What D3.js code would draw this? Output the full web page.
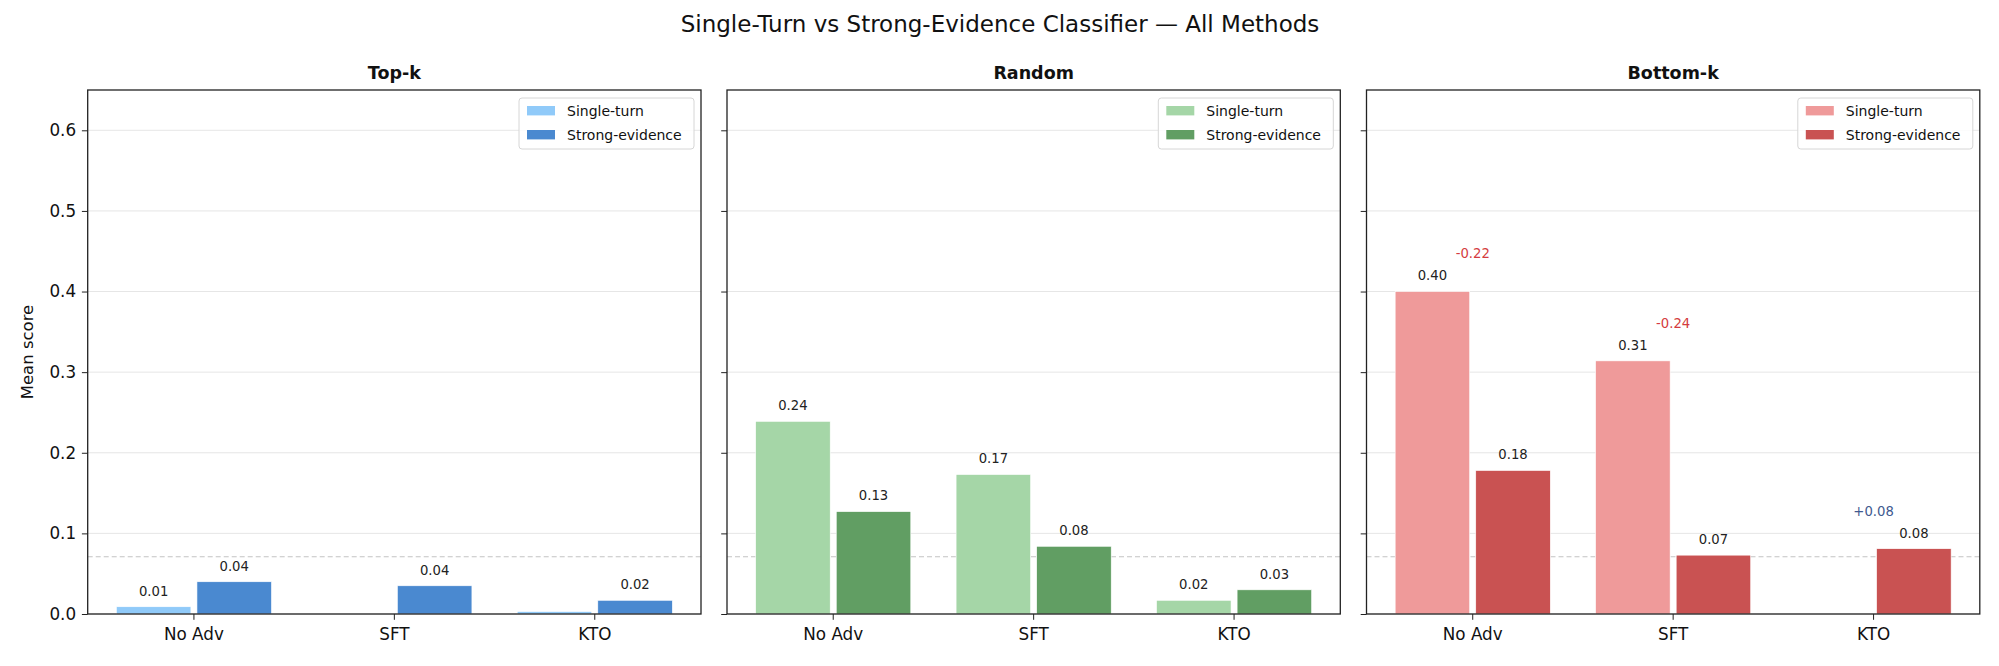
<!DOCTYPE html>
<html>
<head>
<meta charset="utf-8">
<script src="https://cdn.jsdelivr.net/npm/d3@7"></script>
<style>
  body { margin: 0; background: #fff; }
  svg { font-family: "DejaVu Sans", sans-serif; }
</style>
</head>
<body>
<div id="chart"></div>
<script>
// data
const methods = ["Top-k", "Random", "Bottom-k"];
const categories = ["No Adv", "SFT", "KTO"];
const seriesNames = ["Single-turn", "Strong-evidence"];

const topkSingle = [0.009, 0.0, 0.003];
const topkStrong = [0.040, 0.035, 0.017];
const randomSingle = [0.239, 0.173, 0.017];
const randomStrong = [0.127, 0.084, 0.030];
const bottomkSingle = [0.400, 0.314, 0.0];
const bottomkStrong = [0.178, 0.073, 0.081];

const showDelta = [false, false, true];
const refLine = 0.071;
const yTicks = [0, 0.1, 0.2, 0.3, 0.4, 0.5, 0.6];

const singleSeries = [topkSingle, randomSingle, bottomkSingle];
const strongSeries = [topkStrong, randomStrong, bottomkStrong];

// colours per panel: [single, strong]
const palette = [
    ["#90caf9", "#4a89d0"],
    ["#a5d6a7", "#619e63"],
    ["#ef9a9a", "#c95252"]
];

const width = 1999;
const height = 666;
const panelLeft = [87.7, 727, 1366.5];
const panelW = 613.3;
const plotTop = 90, plotBottom = 614;

const svg = d3.select("#chart")
    .append("svg")
    .attr("width", width)
    .attr("height", height);

svg.append("text")
    .attr("x", 1000)
    .attr("y", 31.5)
    .attr("text-anchor", "middle")
    .attr("font-size", 23)
    .attr("fill", "#111")
    .text("Single-Turn vs Strong-Evidence Classifier \u2014 All Methods");

svg.append("text")
    .attr("transform", `translate(33,352) rotate(-90)`)
    .attr("text-anchor", "middle")
    .attr("font-size", 16.5)
    .attr("fill", "#111")
    .text("Mean score");

const y = d3.scaleLinear().domain([0, 0.65]).range([plotBottom, plotTop]);

methods.forEach((method, p) => {
    const left = panelLeft[p];
    const right = left + panelW;
    const g = svg.append("g");

    const x0 = d3.scaleBand()
        .domain(categories)
        .range([left, right])
        .paddingInner(0)
        .paddingOuter(0.03);
    const step = x0.step();
    const x1 = d3.scaleBand()
        .domain(seriesNames)
        .range([-0.387 * step, 0.387 * step])
        .paddingInner(0.075);

    // grid
    g.selectAll(".grid")
        .data(yTicks)
        .enter()
        .append("line")
        .attr("x1", left)
        .attr("x2", right)
        .attr("y1", d => y(d))
        .attr("y2", d => y(d))
        .attr("stroke", "#e6e6e6")
        .attr("stroke-width", 1);

    // dashed reference line
    g.append("line")
        .attr("x1", left)
        .attr("x2", right)
        .attr("y1", y(refLine))
        .attr("y2", y(refLine))
        .attr("stroke", "#c4c4c4")
        .attr("stroke-width", 1.2)
        .attr("stroke-dasharray", "5,3");

    const rows = [];
    categories.forEach((c, i) => {
        rows.push({cat: c, s: seriesNames[0], v: singleSeries[p][i], k: 0});
        rows.push({cat: c, s: seriesNames[1], v: strongSeries[p][i], k: 1});
    });
    const cx = d => x0(d.cat) + step / 2 + x1(d.s);

    g.selectAll(".bar")
        .data(rows.filter(d => d.v > 0))
        .enter()
        .append("rect")
        .attr("x", cx)
        .attr("y", d => y(d.v))
        .attr("width", x1.bandwidth())
        .attr("height", d => y(0) - y(d.v))
        .attr("fill", d => palette[p][d.k])
        .attr("stroke", "#fff")
        .attr("stroke-width", 0.6);

    // value labels (tiny values are not labelled)
    g.selectAll(".vlabel")
        .data(rows.filter(d => d.v > 0.005))
        .enter()
        .append("text")
        .attr("x", d => cx(d) + x1.bandwidth() / 2)
        .attr("y", d => y(d.v) - 11.2)
        .attr("text-anchor", "middle")
        .attr("font-size", 13.2)
        .attr("fill", "#222")
        .text(d => d.v.toFixed(2));

    if (showDelta[p]) {
        const deltas = categories.map((c, i) => ({
            cat: c,
            d: strongSeries[p][i] - singleSeries[p][i],
            m: Math.max(strongSeries[p][i], singleSeries[p][i])
        }));
        g.selectAll(".delta")
            .data(deltas)
            .enter()
            .append("text")
            .attr("x", d => x0(d.cat) + step / 2)
            .attr("y", d => y(d.m) - 33.2)
            .attr("text-anchor", "middle")
            .attr("font-size", 13.2)
            .attr("fill", d => d.d < 0 ? "#d43c40" : "#40598f")
            .text(d => (d.d >= 0 ? "+" : "") + d.d.toFixed(2));
    }

    // axes
    const yAxis = g.append("g")
        .attr("transform", `translate(${left},0)`)
        .call(d3.axisLeft(y)
            .tickValues(yTicks)
            .tickFormat(p === 0 ? d3.format(".1f") : "")
            .tickSize(5.8)
            .tickSizeOuter(0)
            .tickPadding(5.8));
    const xAxis = g.append("g")
        .attr("transform", `translate(0,${plotBottom})`)
        .call(d3.axisBottom(x0).tickSize(5.8).tickSizeOuter(0).tickPadding(8.5));
    [yAxis, xAxis].forEach(a => {
        a.select(".domain").remove();
        a.selectAll("text").attr("font-size", 16.8).attr("fill", "#111").attr("font-family", "DejaVu Sans, sans-serif");
        a.selectAll("line").attr("stroke", "#222").attr("stroke-width", 1);
    });

    g.append("rect")
        .attr("x", left)
        .attr("y", plotTop)
        .attr("width", panelW)
        .attr("height", plotBottom - plotTop)
        .attr("fill", "none")
        .attr("stroke", "#222")
        .attr("stroke-width", 1.3);

    g.append("text")
        .attr("x", (left + right) / 2)
        .attr("y", 79)
        .attr("text-anchor", "middle")
        .attr("font-size", 17.5)
        .attr("font-weight", "bold")
        .attr("fill", "#111")
        .text(method);

    // legend
    const lg = g.append("g").attr("transform", `translate(${right - 182},98)`);
    lg.append("rect")
        .attr("width", 175)
        .attr("height", 51)
        .attr("rx", 3)
        .attr("fill", "#fff")
        .attr("fill-opacity", 0.85)
        .attr("stroke", "#d6d6d6");
    seriesNames.forEach((s, k) => {
        const cy = 12.7 + k * 24;
        lg.append("rect")
            .attr("x", 8)
            .attr("y", cy - 4.7)
            .attr("width", 28)
            .attr("height", 9.4)
            .attr("fill", palette[p][k]);
        lg.append("text")
            .attr("x", 48)
            .attr("y", cy + 5)
            .attr("font-size", 14)
            .attr("fill", "#111")
            .text(s);
    });
});
</script>
</body>
</html>
